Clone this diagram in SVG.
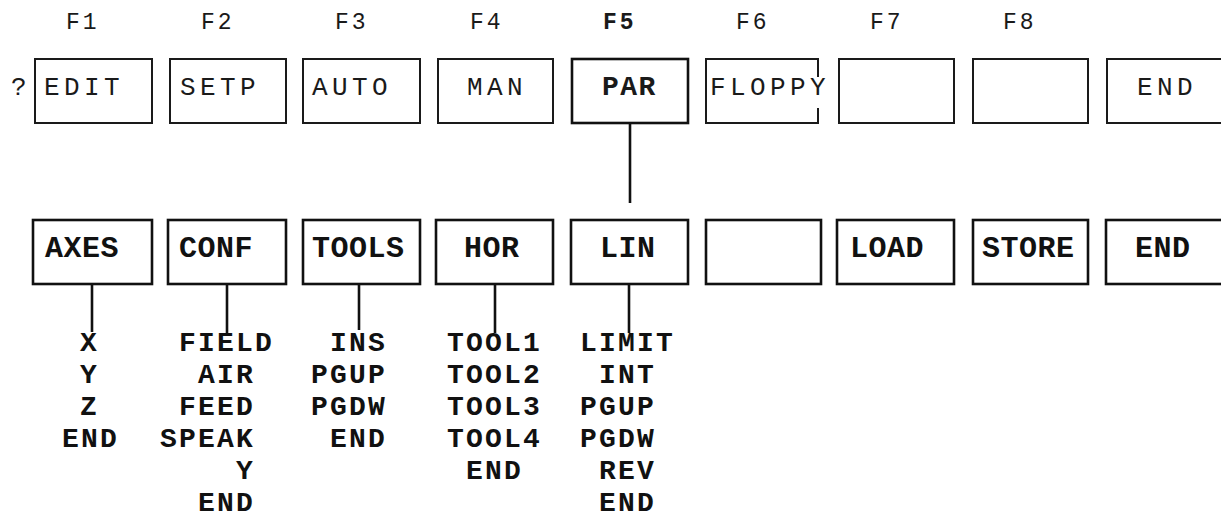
<svg xmlns="http://www.w3.org/2000/svg" width="1221" height="517" viewBox="0 0 1221 517">
<style>
.bg{fill:#fff}
.box{fill:none;stroke:#1a1a1a;stroke-width:2}
.boxb{fill:none;stroke:#111;stroke-width:2.6}
.con{stroke:#111;stroke-width:2.6;fill:none}
text{font-family:"Liberation Mono","DejaVu Sans Mono",monospace;fill:#1a1a1a}
.f{font-size:23px;letter-spacing:3px}
.fb{font-size:23px;letter-spacing:3px;font-weight:bold}
.t{font-size:26px;letter-spacing:4.4px}
.tb{font-size:28px;letter-spacing:1.5px;font-weight:bold}
.m{font-size:30px;letter-spacing:0.5px;font-weight:bold;fill:#111}
.s{font-size:28px;letter-spacing:2.2px;font-weight:bold;fill:#111}
</style>
<rect class="bg" x="0" y="0" width="1221" height="517"/>

<g id="fkeys">
<text class="f" x="66" y="29">F1</text>
<text class="f" x="201" y="29">F2</text>
<text class="f" x="335" y="29">F3</text>
<text class="f" x="470" y="29">F4</text>
<text class="fb" x="603" y="29">F5</text>
<text class="f" x="736" y="29">F6</text>
<text class="f" x="870" y="29">F7</text>
<text class="f" x="1003" y="29">F8</text>
</g>
<text class="t" x="11" y="95">?</text>

<g id="connectors">
<line class="con" x1="630" y1="123" x2="630" y2="203"/>
<line class="con" x1="92" y1="284" x2="92" y2="332"/>
<line class="con" x1="227" y1="284" x2="227" y2="334"/>
<line class="con" x1="359" y1="284" x2="359" y2="330"/>
<line class="con" x1="495" y1="284" x2="495" y2="333"/>
<line class="con" x1="629" y1="284" x2="629" y2="333"/>
</g>

<g id="top-edit"><rect class="box" x="35" y="59" width="117" height="64"/><text class="t" x="44" y="95">EDIT</text></g>
<g id="top-setp"><rect class="box" x="170" y="59" width="116" height="64"/><text class="t" x="180" y="95">SETP</text></g>
<g id="top-auto"><rect class="box" x="303" y="59" width="117" height="64"/><text class="t" x="312" y="95">AUTO</text></g>
<g id="top-man"><rect class="box" x="438" y="59" width="115" height="64"/><text class="t" x="467" y="95">MAN</text></g>
<g id="top-par"><rect class="boxb" x="572" y="59" width="116" height="64"/><text class="tb" x="602" y="95">PAR</text></g>
<g id="top-floppy"><path class="box" d="M818,77 V59 H706 V123 H818 V108"/><text class="t" x="710" y="95">FLOPPY</text></g>
<g id="top-f7"><rect class="box" x="839" y="59" width="115" height="64"/></g>
<g id="top-f8"><rect class="box" x="973" y="59" width="115" height="64"/></g>
<g id="top-end"><rect class="box" x="1107" y="59" width="120" height="64"/><text class="t" x="1137" y="95">END</text></g>

<g id="axes"><rect class="boxb" x="33" y="220" width="119" height="64"/><text class="m" x="45" y="257">AXES</text>
<text class="s" x="80" y="351">X</text><text class="s" x="80" y="383">Y</text><text class="s" x="80" y="415">Z</text><text class="s" x="62" y="447">END</text></g>
<g id="conf"><rect class="boxb" x="168" y="220" width="118" height="64"/><text class="m" x="179" y="257">CONF</text>
<text class="s" x="179" y="351">FIELD</text><text class="s" x="198" y="383">AIR</text><text class="s" x="179" y="415">FEED</text><text class="s" x="160" y="447">SPEAK</text><text class="s" x="236" y="479">Y</text><text class="s" x="198" y="511">END</text></g>
<g id="tools"><rect class="boxb" x="303" y="220" width="117" height="64"/><text class="m" x="312" y="257">TOOLS</text>
<text class="s" x="330" y="351">INS</text><text class="s" x="311" y="383">PGUP</text><text class="s" x="311" y="415">PGDW</text><text class="s" x="330" y="447">END</text></g>
<g id="hor"><rect class="boxb" x="436" y="220" width="117" height="64"/><text class="m" x="464" y="257">HOR</text>
<text class="s" x="447" y="351">TOOL1</text><text class="s" x="447" y="383">TOOL2</text><text class="s" x="447" y="415">TOOL3</text><text class="s" x="447" y="447">TOOL4</text><text class="s" x="466" y="479">END</text></g>
<g id="lin"><rect class="boxb" x="571" y="220" width="117" height="64"/><text class="m" x="600" y="257">LIN</text>
<text class="s" x="580" y="351">LIMIT</text><text class="s" x="599" y="383">INT</text><text class="s" x="580" y="415">PGUP</text><text class="s" x="580" y="447">PGDW</text><text class="s" x="599" y="479">REV</text><text class="s" x="599" y="511">END</text></g>
<g id="mid-blank"><rect class="boxb" x="706" y="220" width="115" height="64"/></g>
<g id="load"><rect class="boxb" x="837" y="220" width="117" height="64"/><text class="m" x="850" y="257">LOAD</text></g>
<g id="store"><rect class="boxb" x="973" y="220" width="115" height="64"/><text class="m" x="982" y="257">STORE</text></g>
<g id="mid-end"><rect class="boxb" x="1106" y="220" width="120" height="64"/><text class="m" x="1135" y="257">END</text></g>
</svg>
